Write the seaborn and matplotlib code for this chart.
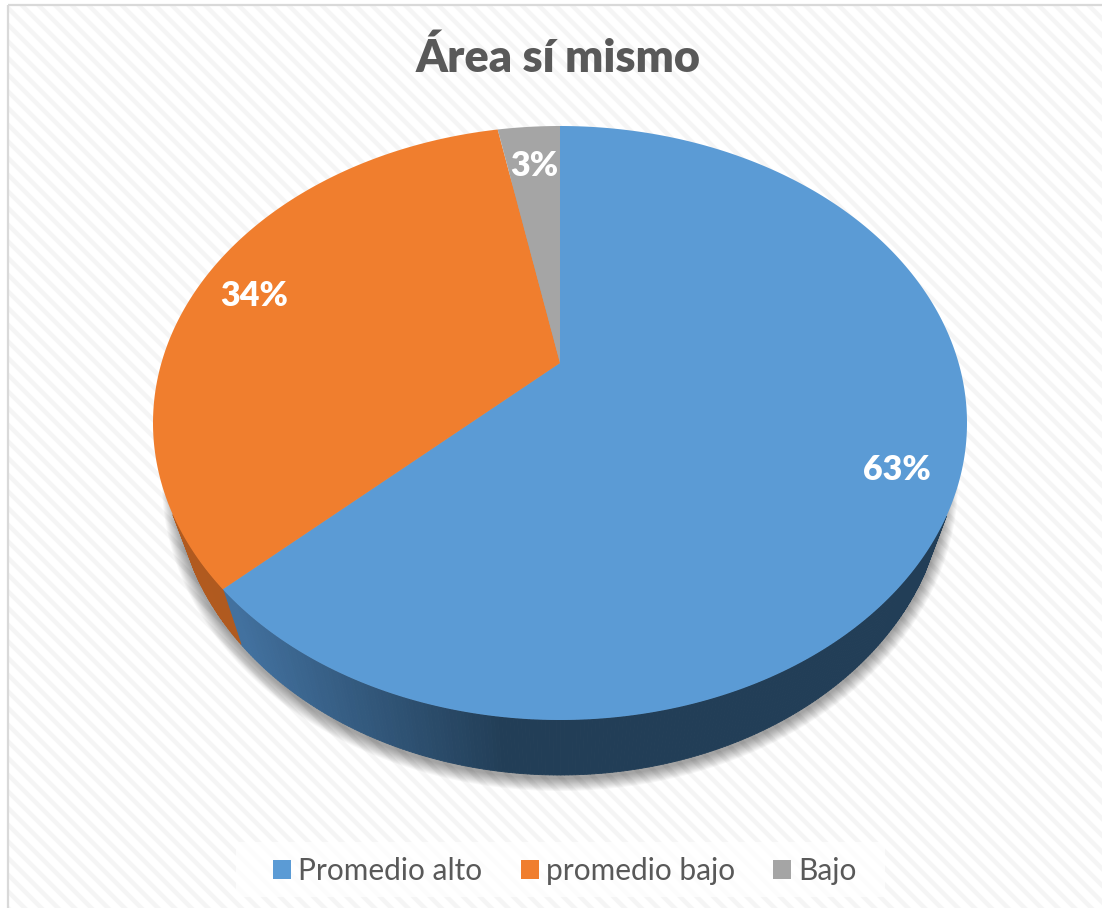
import numpy as np
import seaborn as sns
import matplotlib.pyplot as plt
from matplotlib.collections import PolyCollection
from matplotlib.patches import Rectangle
from matplotlib.path import Path
from matplotlib.transforms import Transform

TITLE = "Área sí mismo"
categories = ["Promedio alto", "promedio bajo", "Bajo"]
values = [63, 34, 3]

W, H = 1102, 908
# pie geometry in pixels, tilted: the slices meet above the ellipse centre
APEX_X, APEX_Y = 560, 363
TOP, BOTTOM, HALF_W = 126, 720, 407
DEPTH = 55
BASE_SCALE = 0.946

K = ((BOTTOM - APEX_Y) - (APEX_Y - TOP)) / ((BOTTOM - APEX_Y) + (APEX_Y - TOP))
B = (APEX_Y - TOP) * (1 + K)
A = HALF_W * np.sqrt(1 - K**2)


def tilt(xy):
    u, v = xy[:, 0], xy[:, 1]
    d = 1 + K * v
    return np.column_stack([APEX_X + A * u / d, APEX_Y - B * v / d])


class Tilt(Transform):
    input_dims = 2
    output_dims = 2
    is_separable = False
    has_inverse = False

    def transform_non_affine(self, values):
        return tilt(np.asarray(values))

    def transform_path_non_affine(self, path):
        # flatten the arcs first, beziers do not survive a perspective map
        big = Path(path.vertices * 2000, path.codes).to_polygons(closed_only=False)[0]
        return Path(tilt(big / 2000))


def base(xy):
    return np.column_stack(
        [APEX_X + BASE_SCALE * (xy[:, 0] - APEX_X), xy[:, 1] + DEPTH]
    )


sns.set_theme(style="white")
plt.rcParams["font.family"] = ["Lato", "DejaVu Sans"]
plt.rcParams["hatch.linewidth"] = 3.2
colors = sns.color_palette(["#5B9BD5", "#F07E2E", "#A5A5A5"])
side_orange = "#B15A1F"
side_blue = sns.blend_palette(["#42719F", "#223E57"], 60)

fig = plt.figure(figsize=(W / 100, H / 100), dpi=100, facecolor="white")
ax = fig.add_axes([0, 0, 1, 1])

wedges, _, pcts = ax.pie(
    values,
    colors=colors,
    startangle=90,
    counterclock=False,
    autopct="%.0f%%",
    wedgeprops={"linewidth": 0, "zorder": 3},
    textprops={"color": "white", "fontweight": 800, "fontsize": 24.5},
)
ax.set_aspect("auto")
ax.set_xlim(0, W)
ax.set_ylim(H, 0)
ax.axis("off")

for w in wedges:
    w.set_transform(Tilt() + ax.transData)

label_pos = [(897, 470), (254, 296), (534, 166)]
for t, (x, y) in zip(pcts, label_pos):
    t.set_transform(ax.transData)
    t.set_position((x, y))
    t.set_zorder(5)

# chart area, runs off the picture on the right and at the bottom
ax.add_patch(Rectangle((8, 5), W, H, facecolor="white", edgecolor="#F5F5F5",
                       hatch="\\\\", linewidth=0, zorder=0))
ax.add_patch(Rectangle((8, 5), W, H, fill=False, edgecolor="#D9D9D9",
                       linewidth=1.6, zorder=0.1))

# soft shadow under the base
ang = np.linspace(0, 2 * np.pi, 400)
rim = tilt(np.column_stack([np.sin(ang), np.cos(ang)]))
low = base(rim)
cy = (TOP + BOTTOM) / 2 + DEPTH
for grow in range(13, 0, -1):
    sx = (HALF_W * BASE_SCALE + grow) / (HALF_W * BASE_SCALE)
    sy = (BOTTOM - TOP + 2 * grow) / (BOTTOM - TOP)
    ax.fill(APEX_X + sx * (low[:, 0] - APEX_X), cy + 3 + sy * (low[:, 1] - cy),
            color="black", alpha=0.03, linewidth=0, zorder=0.5)

# side wall, one thin strip per rim step, slices in the pie's own order
start = 0.0
for val, col in zip(values, colors):
    stop = start + val / sum(values) * 2 * np.pi
    a = np.linspace(start, stop, max(int(val * 8), 4))
    r = tilt(np.column_stack([np.sin(a), np.cos(a)]))
    lo = base(r)
    # the upper rim stays hidden behind the top face
    quads = [[r[i], r[i + 1], lo[i + 1], lo[i]] for i in range(len(a) - 1) if r[i, 1] > 515]
    mid = np.array([(q[0][0] + q[1][0]) / 2 for q in quads])
    if col == colors[0]:
        idx = np.clip((mid - 230) / (500 - 230), 0, 1) * (len(side_blue) - 1)
        fc = [side_blue[int(i)] for i in idx]
    else:
        fc = [side_orange] * len(quads)
    if quads:
        ax.add_collection(PolyCollection(quads, facecolors=fc, edgecolors=fc,
                                         linewidths=0.6, zorder=2))
    start = stop

ax.text(558, 58, TITLE, ha="center", va="center", fontsize=32.5,
        fontweight=800, color="#595959", zorder=5)

# legend band
ax.add_patch(Rectangle((236, 842), 649, 55, facecolor="white", edgecolor="none",
                       alpha=0.8, zorder=3.5))
leg = ax.legend(
    wedges, categories, ncol=3, loc="center", bbox_to_anchor=(565 / W, 1 - 871 / H),
    fontsize=21.5, frameon=False, labelcolor="#595959", handlelength=0.6,
    handleheight=0.65, handletextpad=0.25, columnspacing=1.28, borderpad=0,
    borderaxespad=0,
)
leg.set_zorder(4)

plt.savefig("out.png", dpi=100)
